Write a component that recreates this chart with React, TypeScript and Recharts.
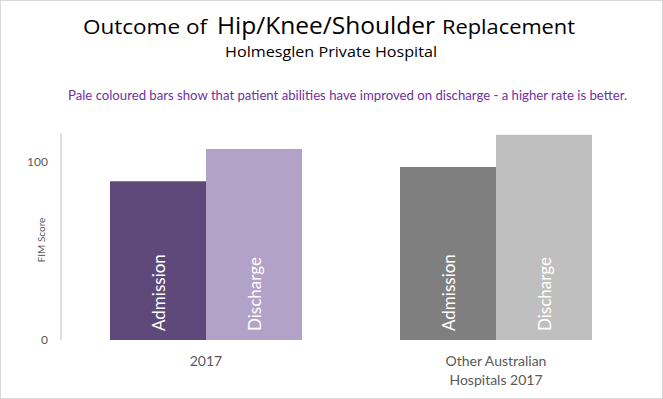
import React from "react";
import { BarChart, Bar, XAxis, YAxis, LabelList, Cell } from "recharts";

// values (FIM score)
const categories = ["2017", "Other Australian\nHospitals 2017"];
const admission = [89, 97];
const discharge = [107, 115];
const yTicks = [0, 100];

const admissionColors = ["#5F497A", "#7F7F7F"];
const dischargeColors = ["#B2A2C7", "#BFBFBF"];

const data = categories.map((name, i) => ({
  name,
  Admission: admission[i],
  Discharge: discharge[i],
}));

const labelFont = "Lato, 'Open Sans', sans-serif";
const titleFont = "'Open Sans', 'DejaVu Sans', sans-serif";

const CategoryTick = (props: any) => {
  const { x, payload } = props;
  const lines = String(payload.value).split("\n");
  return (
    <text
      x={x}
      y={366}
      textAnchor="middle"
      fill="#595959"
      fontSize={14}
      fontFamily={labelFont}
    >
      {lines.map((line, i) => (
        <tspan key={line} x={x} dy={i === 0 ? 0 : 19}>
          {line}
        </tspan>
      ))}
    </text>
  );
};

const seriesLabel = (text: string) => (props: any) => {
  const { x, y, width, height } = props;
  const cx = x + width / 2;
  const cy = y + height - 9;
  return (
    <text
      x={cx}
      y={cy}
      transform={`rotate(-90, ${cx}, ${cy})`}
      textAnchor="start"
      dominantBaseline="central"
      fill="#ffffff"
      fontSize={17}
      fontFamily={labelFont}
    >
      {text}
    </text>
  );
};

const App = () => {
  return (
    <div
      style={{
        position: "absolute",
        left: 0,
        top: 0,
        width: 663,
        height: 399,
        background: "#fff",
      }}
    >
      <BarChart
        width={663}
        height={399}
        data={data}
        margin={{ top: 133, right: 22, left: 0, bottom: 0 }}
        barGap={0}
      >
        <XAxis
          dataKey="name"
          axisLine={false}
          tickLine={false}
          height={59}
          interval={0}
          tick={<CategoryTick />}
        />
        <YAxis
          width={61}
          domain={[0, 116]}
          ticks={yTicks}
          tickLine={false}
          tickMargin={7}
          axisLine={{ stroke: "#BFBFBF" }}
          tick={{ fill: "#595959", fontSize: 12, fontFamily: labelFont }}
          label={() => (
            <text
              x={41}
              y={240}
              transform="rotate(-90, 41, 240)"
              textAnchor="middle"
              dominantBaseline="central"
              fill="#595959"
              fontSize={10}
              fontFamily={labelFont}
            >
              FIM Score
            </text>
          )}
        />
        <Bar dataKey="Admission" barSize={96} isAnimationActive={false}>
          {data.map((d, i) => (
            <Cell key={d.name} fill={admissionColors[i]} />
          ))}
          <LabelList dataKey="Admission" content={seriesLabel("Admission")} />
        </Bar>
        <Bar dataKey="Discharge" barSize={96} isAnimationActive={false}>
          {data.map((d, i) => (
            <Cell key={d.name} fill={dischargeColors[i]} />
          ))}
          <LabelList dataKey="Discharge" content={seriesLabel("Discharge")} />
        </Bar>
      </BarChart>

      {/* titles and frame */}
      <svg
        width={663}
        height={399}
        style={{ position: "absolute", left: 0, top: 0, pointerEvents: "none" }}
      >
        <rect x={0.5} y={0.5} width={662} height={398} fill="none" stroke="#D9D9D9" />
        <text
          x={83}
          y={34}
          fontSize={20}
          fontFamily={titleFont}
          fill="#000"
          textLength={124}
          lengthAdjust="spacingAndGlyphs"
        >
          Outcome of
        </text>
        <text
          x={217}
          y={34}
          fontSize={24}
          fontFamily={titleFont}
          fill="#000"
          textLength={218}
          lengthAdjust="spacingAndGlyphs"
        >
          Hip/Knee/Shoulder
        </text>
        <text
          x={442}
          y={34}
          fontSize={20}
          fontFamily={titleFont}
          fill="#000"
          textLength={133}
          lengthAdjust="spacingAndGlyphs"
        >
          Replacement
        </text>
        <text
          x={225}
          y={57}
          fontSize={14}
          fontFamily={titleFont}
          fill="#000"
          textLength={212}
          lengthAdjust="spacingAndGlyphs"
        >
          Holmesglen Private Hospital
        </text>
        <text
          x={68}
          y={100}
          fontSize={13}
          fontFamily={labelFont}
          fill="#7030A0"
          textLength={559}
          lengthAdjust="spacingAndGlyphs"
        >
          Pale coloured bars show that patient abilities have improved on discharge - a higher rate is better.
        </text>
      </svg>
    </div>
  );
};

export default App;
